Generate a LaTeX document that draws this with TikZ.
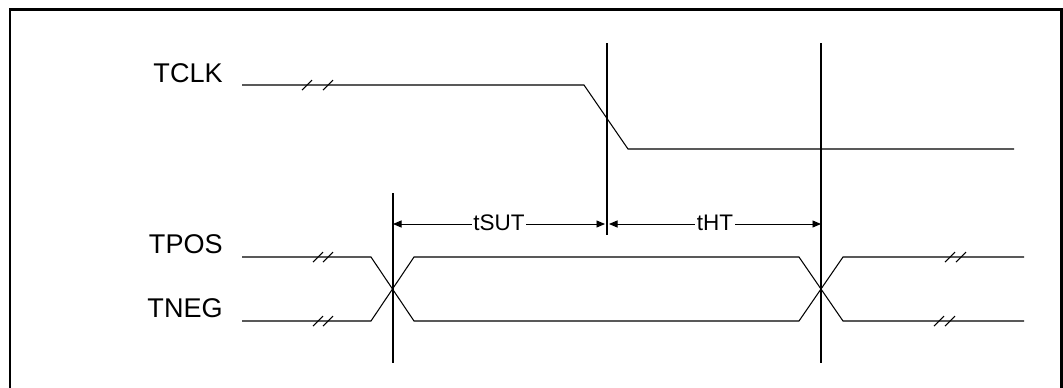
\documentclass[tikz,border=0pt]{standalone}
\usepackage{fontspec}
\setmainfont{Liberation Sans}
\usepackage{tikz}
\usetikzlibrary{arrows.meta}

\begin{document}
\begin{tikzpicture}[
	x=0.02cm, y=-0.02cm,
	sig/.style = {line width=0.6pt, line join=miter},
	brk/.style = {line width=0.6pt},
	vline/.style = {line width=0.6pt},
	dim/.style = {line width=0.5pt,
		{Triangle[length=1.7mm, width=1.4mm]}-{Triangle[length=1.7mm, width=1.4mm]}},
	lbl/.style = {font=\fontsize{15.4}{18}\selectfont, anchor=base east, inner sep=0pt},
	dlbl/.style = {font=\fontsize{12.8}{15}\selectfont, fill=white, inner xsep=1pt, inner ysep=0pt},
	]
	\useasboundingbox (0,0) rectangle (1063,387);
	
	% frame, open at the bottom
	\draw[line width=1.4pt] (10,392) -- (10,9.5) -- (1061.5,9.5) -- (1061.5,392);
	
	% signal names
	\node[lbl] (tclk) at (223,82) {TCLK};
	\node[lbl] (tpos) at (223,253) {TPOS};
	\node[lbl] (tneg) at (223,317) {TNEG};
	
	% TCLK falling edge
	\draw[sig] (242,85) -- (584,85) -- (628,149) -- (1014,149);
	
	% TPOS / TNEG crossing
	\draw[sig] (242,257) -- (371,257) -- (414,321) -- (799,321) -- (843,257) -- (1024,257);
	\draw[sig] (242,321) -- (371,321) -- (414,257) -- (799,257) -- (843,321) -- (1024,321);
	
	% break marks
	\foreach \c/\r in {307/85, 328/85, 318/257, 328/257, 318/321, 328/321,
		950/257, 961/257, 939/321, 950/321}
	\draw[brk] ({\c-5},{\r+5}) -- ({\c+5},{\r-5});
	
	% timing references
	\coordinate (ta) at (393,224);
	\coordinate (tb) at (607,224);
	\coordinate (tc) at (821,224);
	\draw[vline] (393,193) -- (393,363);
	\draw[vline] (607,43) -- (607,235);
	\draw[vline] (821,43) -- (821,363);
	
	\draw[dim] (ta) -- ([xshift=-0.04cm]tb) node[dlbl,midway,yshift=0.5pt] (tsut) {tSUT};
	\draw[dim] ([xshift=0.04cm]tb) -- (tc) node[dlbl,midway,yshift=0.5pt] (tht) {tHT};
\end{tikzpicture}
\end{document}
